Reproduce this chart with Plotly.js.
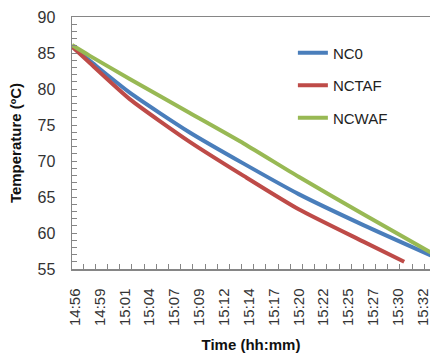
<!DOCTYPE html>
<html><head><meta charset="utf-8">
<script src="https://cdn.plot.ly/plotly-3.0.1.min.js"></script>
<style>html,body{margin:0;padding:0;background:#fff}#chart{width:430px;height:355px}</style>
</head><body><div id="chart"></div>
<script>
// Time in minutes after 14:56
const timeNC0   = [-0.31, 1.54, 5.66, 11.83, 17.49, 23.14, 29.83, 36.8];
const tempNC0   = [85.9, 83.9, 79.5, 74.0, 69.6, 65.4, 61.1, 56.9];
const timeNCTAF = [-0.31, 1.54, 5.66, 11.83, 17.49, 23.14, 29.83, 34.05];
const tempNCTAF = [85.9, 83.6, 78.6, 72.7, 67.9, 63.3, 58.8, 56.0];
const timeNCWAF = [-0.31, 1.54, 5.66, 11.83, 17.49, 23.14, 29.83, 36.8];
const tempNCWAF = [86.1, 84.6, 81.4, 76.7, 72.4, 67.8, 62.6, 57.3];
const tickLabels = ['14:56','14:59','15:01','15:04','15:07','15:09','15:12','15:14','15:17','15:20','15:22','15:25','15:27','15:30','15:32'];
const tickStep = 36 / 14;
const tickPositions = tickLabels.map((_, i) => i * tickStep);

const lineW = 4;
const traces = [
  {x: timeNC0, y: tempNC0, name: 'NC0', mode: 'lines', legendgroup: 'a',
   line: {color: '#4A7EBB', width: lineW, shape: 'spline', smoothing: 0.6}},
  {x: timeNCTAF, y: tempNCTAF, name: 'NCTAF', mode: 'lines', legendgroup: 'b',
   line: {color: '#BE4B48', width: lineW, shape: 'spline', smoothing: 0.6}},
  {x: timeNCWAF, y: tempNCWAF, name: 'NCWAF', mode: 'lines', legendgroup: 'c',
   line: {color: '#98B954', width: lineW, shape: 'spline', smoothing: 0.6}}
];

const axisFont = {family: 'Liberation Sans, Arial, sans-serif', size: 16, color: '#333'};
const xTickFont = {family: 'Liberation Sans, Arial, sans-serif', size: 15, color: '#333'};
const titleFont = {family: 'Liberation Sans, Arial, sans-serif', size: 15, color: '#111'};
const layout = {
  width: 430, height: 355,
  margin: {l: 72, r: 0, t: 17, b: 86},
  paper_bgcolor: '#fff', plot_bgcolor: '#fff',
  showlegend: true,
  legend: {x: 0.617, y: 0.923, xanchor: 'left', yanchor: 'top',
           font: {family: 'Liberation Sans, Arial, sans-serif', size: 15, color: '#222'},
           traceorder: 'grouped', tracegroupgap: 10, bgcolor: 'rgba(0,0,0,0)'},
  xaxis: {
    range: [-0.31, 36.72], showgrid: false, zeroline: false,
    showline: true, mirror: true, linecolor: '#868686', linewidth: 1.5,
    tickmode: 'array', tickvals: tickPositions, ticktext: tickLabels,
    tickangle: -90, ticks: '', tickfont: xTickFont, ticklabelstandoff: 12,
    ticklabeloverflow: 'allow',
    minor: {tickmode: 'linear', tick0: 0.85, dtick: 1.26, ticks: 'inside', ticklen: 5, tickcolor: '#868686', showgrid: false},
    title: {text: '<b>Time (hh:mm)</b>', font: titleFont, standoff: 14}
  },
  yaxis: {
    range: [55, 90], showgrid: false, zeroline: false,
    showline: true, mirror: false, linecolor: '#868686', linewidth: 1.5,
    tickmode: 'linear', tick0: 55, dtick: 5, ticks: 'inside', ticklen: 5, tickcolor: '#868686',
    tickfont: axisFont, ticklabelstandoff: 12,
    minor: {dtick: 1, ticks: 'inside', ticklen: 5, tickcolor: '#868686', showgrid: false},
    title: {text: '<b>Temperature (ºC)</b>', font: titleFont, standoff: 12}
  }
};
Plotly.newPlot('chart', traces, layout, {staticPlot: true, displayModeBar: false});
</script></body></html>
